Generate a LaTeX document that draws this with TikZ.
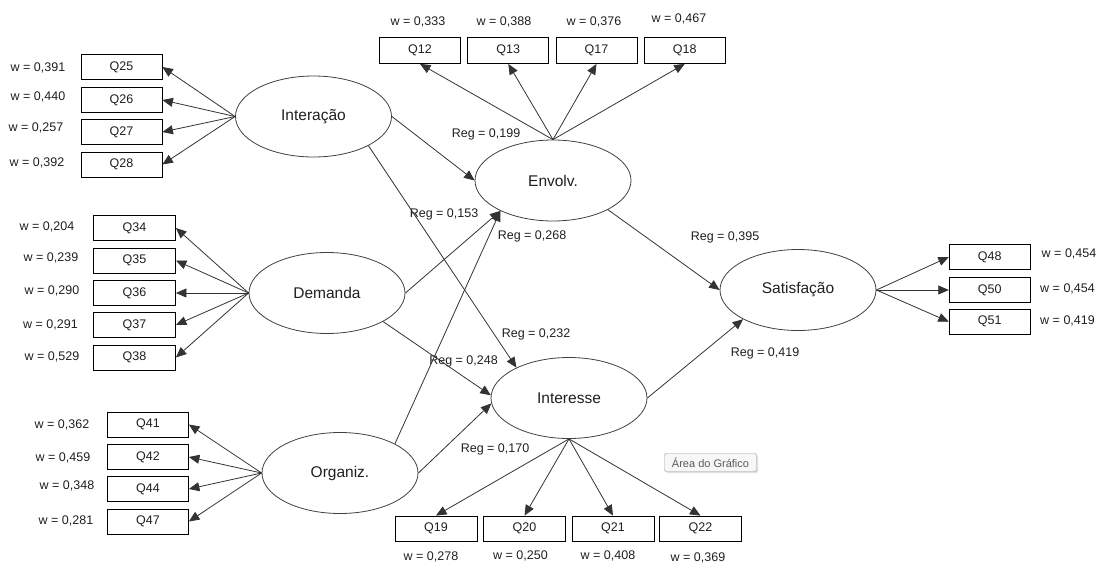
\documentclass[tikz,border=0pt]{standalone}
\usepackage{fontspec}
\setmainfont{Liberation Sans}
\usetikzlibrary{arrows.meta,shapes.geometric,shadows}
\begin{document}
\begin{tikzpicture}[x=1pt,y=-1pt,
  lat/.style={ellipse,draw=black!75,line width=0.8pt,minimum width=156pt,minimum height=81pt,inner sep=0pt,font=\fontsize{15.5}{18}\selectfont,text=black!88},
  ind/.style={rectangle,draw=black,line width=0.8pt,minimum width=81pt,minimum height=25pt,inner sep=0pt,font=\fontsize{12.5}{14}\selectfont,text=black!88},
  lbl/.style={font=\fontsize{12.5}{14}\selectfont,text=black!88,inner sep=0pt},
  arr/.style={draw=black!80,line width=0.8pt,-{Triangle[length=10.5pt,width=9pt]}},
]
\useasboundingbox (0,0) rectangle (1097,565);

% latent variables
\node[lat] (inter) at (313.5,116.5) {Interação};
\node[lat] (env) at (553,180.5) {Envolv.};
\node[lat] (dem) at (327,293) {Demanda};
\node[lat] (org) at (340,473) {Organiz.};
\node[lat] (int) at (569,398) {Interesse};
\node[lat] (sat) at (798,290) {Satisfação};

% Interação indicators
\node[ind] (q25) at (121.5,67) {Q25};
\node[ind] (q26) at (121.5,100) {Q26};
\node[ind] (q27) at (121.5,132) {Q27};
\node[ind] (q28) at (121.5,164.5) {Q28};
\node[lbl] (w25) at (38,68) {w = 0,391};
\node[lbl] (w26) at (38,97) {w = 0,440};
\node[lbl] (w27) at (36,128) {w = 0,257};
\node[lbl] (w28) at (37,163) {w = 0,392};

% Demanda indicators
\node[ind,minimum width=82pt] (q34) at (134.5,228) {Q34};
\node[ind,minimum width=82pt] (q35) at (134.5,260.5) {Q35};
\node[ind,minimum width=82pt] (q36) at (134.5,293) {Q36};
\node[ind,minimum width=82pt] (q37) at (134.5,325) {Q37};
\node[ind,minimum width=82pt] (q38) at (134.5,357.5) {Q38};
\node[lbl] (w34) at (47,227) {w = 0,204};
\node[lbl] (w35) at (51,258) {w = 0,239};
\node[lbl] (w36) at (52,291) {w = 0,290};
\node[lbl] (w37) at (50.5,324.5) {w = 0,291};
\node[lbl] (w38) at (52,357) {w = 0,529};

% Organiz. indicators
\node[ind] (q41) at (148,424.5) {Q41};
\node[ind] (q42) at (148,457) {Q42};
\node[ind] (q44) at (148,489) {Q44};
\node[ind] (q47) at (148,521.5) {Q47};
\node[lbl] (w41) at (62,425) {w = 0,362};
\node[lbl] (w42) at (63,457.5) {w = 0,459};
\node[lbl] (w44) at (67,486) {w = 0,348};
\node[lbl] (w47) at (66,520.5) {w = 0,281};

% Envolv. indicators
\node[ind,minimum height=26pt] (q12) at (420,50.5) {Q12};
\node[ind,minimum height=26pt] (q13) at (508.3,50.5) {Q13};
\node[ind,minimum height=26pt] (q17) at (596.5,50.5) {Q17};
\node[ind,minimum height=26pt] (q18) at (684.7,50.5) {Q18};
\node[lbl] (w12) at (418,21.5) {w = 0,333};
\node[lbl] (w13) at (504,21.5) {w = 0,388};
\node[lbl] (w17) at (594,21.5) {w = 0,376};
\node[lbl] (w18) at (679,19) {w = 0,467};

% Interesse indicators
\node[ind,minimum width=82pt] (q19) at (436,528.5) {Q19};
\node[ind,minimum width=82pt] (q20) at (524.5,528.5) {Q20};
\node[ind,minimum width=82pt] (q21) at (613,528.5) {Q21};
\node[ind,minimum width=82pt] (q22) at (700.5,528.5) {Q22};
\node[lbl] (w19) at (431,556.5) {w = 0,278};
\node[lbl] (w20) at (520.5,556) {w = 0,250};
\node[lbl] (w21) at (608,555.5) {w = 0,408};
\node[lbl] (w22) at (698,558) {w = 0,369};

% Satisfação indicators
\node[ind] (q48) at (989.7,257) {Q48};
\node[ind] (q50) at (989.7,290) {Q50};
\node[ind] (q51) at (989.7,321.7) {Q51};
\node[lbl] (w48) at (1069,253.5) {w = 0,454};
\node[lbl] (w50) at (1067.5,288.5) {w = 0,454};
\node[lbl] (w51) at (1067.5,321) {w = 0,419};

% regression labels
\node[lbl] (r199) at (486,134) {Reg = 0,199};
\node[lbl] (r153) at (444,214) {Reg = 0,153};
\node[lbl] (r268) at (532,236) {Reg = 0,268};
\node[lbl] (r395) at (725,237) {Reg = 0,395};
\node[lbl] (r232) at (536,334) {Reg = 0,232};
\node[lbl] (r248) at (463.5,361) {Reg = 0,248};
\node[lbl] (r419) at (765,353) {Reg = 0,419};
\node[lbl] (r170) at (495,449) {Reg = 0,170};

% measurement arrows
\foreach \q in {q25,q26,q27,q28} \draw[arr] (inter.west) -- (\q.east);
\foreach \q in {q34,q35,q36,q37,q38} \draw[arr] (dem.west) -- (\q.east);
\foreach \q in {q41,q42,q44,q47} \draw[arr] (org.west) -- (\q.east);
\foreach \q in {q12,q13,q17,q18} \draw[arr] (env.north) -- (\q.south);
\foreach \q in {q19,q20,q21,q22} \draw[arr] (int.south) -- (\q.north);
\foreach \q in {q48,q50,q51} \draw[arr] (sat.east) -- (\q.west);

% structural arrows
\draw[arr] (inter.east) -- (env.west);
\draw[arr] (inter.-28) -- (int.150);
\draw[arr] (dem.east) -- (env.210);
\draw[arr] (org.28) -- (env.210);
\draw[arr] (dem.-27) -- (int.178);
\draw[arr] (org.east) -- (int.184);
\draw[arr] (env.-28) -- (sat.west);
\draw[arr] (int.east) -- (sat.208);

% tooltip
\node[draw=black!40,fill=black!3,rounded corners=1.5pt,text=black!65,font=\fontsize{11}{13}\selectfont,minimum width=92pt,minimum height=18pt,inner sep=0pt,drop shadow={opacity=0.25,shadow xshift=1.5pt,shadow yshift=-1.5pt}] (tip) at (710.5,462.5) {Área do Gráfico};
\end{tikzpicture}
\end{document}
